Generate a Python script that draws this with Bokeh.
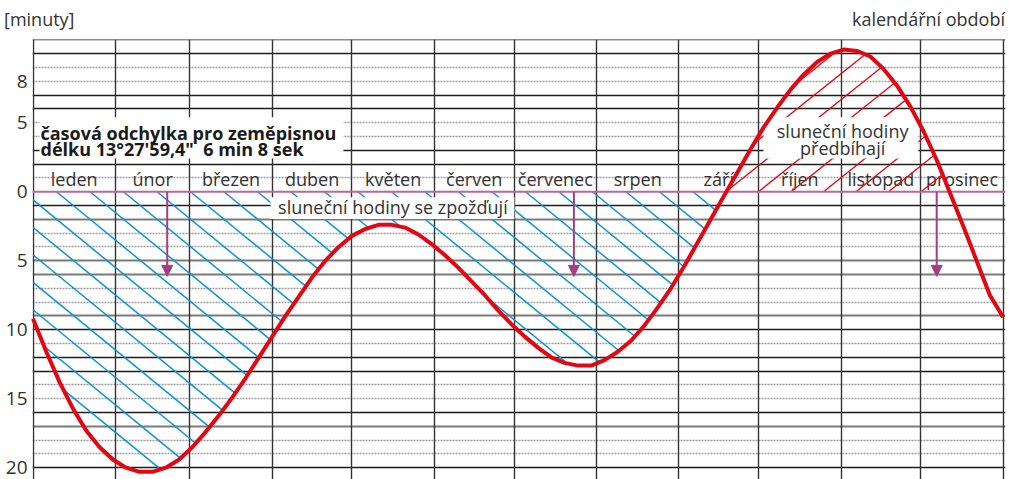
import numpy as np
from bokeh.plotting import figure
from bokeh.layouts import column
from bokeh.models import (Range1d, FixedTicker, Grid, Label, Arrow, NormalHead,
                          ColumnDataSource, Span, BoxAnnotation, Div)
from bokeh.core.properties import value
from bokeh.embed import file_html
from bokeh.resources import INLINE

# ---------------- data ----------------
# day of year (Jan 1 = 0) and the sundial delay in minutes (positive = sundial slow)
days = [0, 5, 10, 15, 20, 25, 30, 35, 40, 45, 50, 55, 60, 65, 70, 75, 80, 85, 90, 95,
        100, 105, 110, 115, 120, 125, 130, 135, 140, 145, 150, 155, 160, 165, 170, 175,
        180, 185, 190, 195, 200, 205, 210, 215, 220, 225, 230, 235, 240, 245, 250, 255,
        260, 265, 270, 275, 280, 285, 290, 295, 300, 305, 310, 315, 320, 325, 330, 335,
        340, 345, 350, 355, 360, 365]
delay_min = [9.2, 11.6, 13.8, 15.7, 17.3, 18.5, 19.4, 20.0, 20.3, 20.3, 20.0, 19.4,
             18.5, 17.4, 16.2, 14.9, 13.5, 12.0, 10.5, 9.0, 7.6, 6.2, 5.0, 4.0, 3.2,
             2.7, 2.4, 2.4, 2.6, 3.1, 3.8, 4.6, 5.5, 6.5, 7.5, 8.6, 9.6, 10.5, 11.3,
             12.0, 12.4, 12.6, 12.6, 12.2, 11.6, 10.8, 9.7, 8.4, 7.0, 5.4, 3.7, 2.0,
             0.3, -1.4, -3.1, -4.7, -6.1, -7.4, -8.5, -9.4, -10.0, -10.3, -10.2, -9.8,
             -8.9, -7.7, -6.2, -4.4, -2.3, 0.1, 2.5, 5.0, 7.5, 9.1]
months = ["leden", "únor", "březen", "duben", "květen", "červen", "červenec",
          "srpen", "září", "říjen", "listopad", "prosinec"]
month_starts = [0, 31, 59, 90, 120, 151, 181, 212, 243, 273, 304, 334, 365]
y_ticks = [-8, -5, 0, 5, 10, 15, 20]
y_tick_labels = ["8", "5", "0", "5", "10", "15", "20"]
longitude_offset_min = 6 + 8 / 60.0          # 6 min 8 sek
arrow_days = [50.5, 203.5, 340.0]

# grid line groups (minutes)
grid_dark = [-11, -10, -7, -6, -3, -2, 1, 10, 12, 13, 16, 20]
grid_grey = [2, 5, 6, 9, 17]
grid_dotted = [-9, -8, -5, -4, -1, 3, 4, 7, 8, 11, 14, 15, 18, 19]

# ---------------- layout constants ----------------
KX = 2.658   # px per day
KY = 13.8    # px per minute
FONT = "Open Sans"
TXT = "#333333"
W, H_HEAD, H_PLOT = 1009, 39, 440
FL, FR = 32, 4   # frame borders

month_centers = [(a + b) / 2 for a, b in zip(month_starts[:-1], month_starts[1:])]

x0 = -0.5 / KX
x1 = x0 + (W - FL - FR) / KX
y_top = -11.03
y_bot = y_top + H_PLOT / KY


def hatch(sign, slope, spacing, phase, day_lo, day_hi):
    d = np.array(days, float)
    v = np.array(delay_min, float)
    xs, ys = [], []
    ymax = 23 * KY
    xmax = 370 * KX
    k_lo = int(np.floor((-phase - ymax / slope) / spacing)) - 1
    k_hi = int(np.ceil((xmax - phase) / spacing)) + 1
    for k in range(k_lo, k_hi + 1):
        c = phase + k * spacing
        X = np.arange(c, c + ymax / slope, 0.4)
        day = X / KX
        val = sign * slope * (X - c) / KY
        f = np.interp(day, d, v)
        m = (day >= day_lo) & (day <= day_hi) & (sign * val >= 0) & (sign * val <= sign * f)
        if not m.any():
            continue
        idx = np.flatnonzero(m)
        breaks = np.flatnonzero(np.diff(idx) > 1)
        starts = np.r_[idx[0], idx[breaks + 1]]
        ends = np.r_[idx[breaks], idx[-1]]
        for s, e in zip(starts, ends):
            if e - s < 2:
                continue
            xs.append([day[s], day[e]])
            ys.append([val[s], val[e]])
    return xs, ys


p = figure(width=W, height=H_PLOT, output_backend="svg", toolbar_location=None,
           x_range=Range1d(x0, x1), y_range=Range1d(y_bot, y_top),
           x_axis_location=None, y_axis_location="left",
           min_border_left=FL, min_border_right=FR, min_border_top=0, min_border_bottom=0,
           outline_line_color=None, background_fill_color="white",
           border_fill_color="white", margin=0)
p.grid.visible = False

# y axis
ax = p.yaxis[0]
ax.ticker = FixedTicker(ticks=y_ticks)
ax.major_label_overrides = {t: l for t, l in zip(y_ticks, y_tick_labels)}
ax.axis_line_color = None
ax.major_tick_line_color = None
ax.minor_tick_line_color = None
ax.major_tick_out = 0
ax.major_tick_in = 0
ax.major_label_standoff = 5
ax.major_label_text_font = FONT
ax.major_label_text_font_size = "19px"
ax.major_label_text_color = TXT

# grids
p.add_layout(Grid(dimension=1, ticker=FixedTicker(ticks=grid_dotted),
                  grid_line_color="#9c9c9c", grid_line_width=1.3, grid_line_dash="2 1"))
p.add_layout(Grid(dimension=1, ticker=FixedTicker(ticks=grid_grey),
                  grid_line_color="#7a7a7a", grid_line_width=2))
p.add_layout(Grid(dimension=1, ticker=FixedTicker(ticks=grid_dark),
                  grid_line_color="#1e1e1e", grid_line_width=1.3))
p.add_layout(Grid(dimension=0, ticker=FixedTicker(ticks=month_starts),
                  grid_line_color="#333333", grid_line_width=1.4))

# month names
p.text(x=month_centers, y=-0.94, text=months, text_align="center",
       text_baseline="alphabetic", text_font=value(FONT), text_font_size="18px",
       text_color=TXT)

# hatching
bxs, bys = hatch(+1, 0.82, 33.5, 23.5, 0, 262)
p.multi_line(bxs, bys, line_color="#0a94d6", line_width=1.5)
rxs, rys = hatch(-1, 0.80, 32.5, 725.5, 255, 350)
p.multi_line(rxs, rys, line_color="#e30613", line_width=1.3)

# zero line
p.add_layout(Span(location=0, dimension="width", line_color="#c0649c", line_width=2))

# arrows (longitude offset)
asrc = ColumnDataSource(dict(xs=arrow_days, ys=[0] * len(arrow_days),
                             xe=arrow_days, ye=[longitude_offset_min] * len(arrow_days)))
p.add_layout(Arrow(end=NormalHead(size=11, fill_color="#a23f82", line_color="#a23f82"),
                   source=asrc, x_start="xs", y_start="ys", x_end="xe", y_end="ye",
                   line_color="#a23f82", line_width=2))

# white boxes behind the annotations
for l, r_, t, b in [(2.45, 116.8, -5.40, -2.41),
                    (89.35, 181.1, 0.40, 1.98),
                    (274.8, 333.1, -5.40, -2.41)]:
    p.add_layout(BoxAnnotation(left=l, right=r_, top=t, bottom=b, fill_color="white",
                               fill_alpha=1.0, line_color=None))


def txt(x, y, text, align="left", style="normal"):
    p.add_layout(Label(x=x, y=y, text=text, text_align=align, text_baseline="alphabetic",
                       text_font=FONT, text_font_size="18px", text_font_style=style,
                       text_color="#1a1a1a" if style == "bold" else TXT))


txt(2.82, -4.27, "časová odchylka pro zeměpisnou", style="bold")
txt(2.82, -3.11, "délku 13°27'59,4\" \u00a06 min 8 sek", style="bold")
txt(135.4, 1.08, "sluneční hodiny se zpožďují", align="center")
txt(304.6, -4.40, "sluneční hodiny", align="center")
txt(304.6, -3.14, "předbíhají", align="center")

# curve
r = p.line(days, delay_min, line_color="#e30613", line_width=4, line_join="round")
r.level = "overlay"

head = Div(
    text=("<div style=\"position:relative;width:%dpx;height:%dpx;font-family:'Open Sans';"
          "font-size:18px;line-height:22px;color:#333333;\">"
          "<span style=\"position:absolute;left:4px;top:8px;\">[minuty]</span>"
          "<span style=\"position:absolute;right:4px;top:8px;\">kalendářní období</span>"
          "</div>") % (W, H_HEAD),
    width=W, height=H_HEAD, margin=0)

layout = column(head, p, spacing=0, margin=0)
open("out.html", "w").write(file_html(layout, INLINE))
